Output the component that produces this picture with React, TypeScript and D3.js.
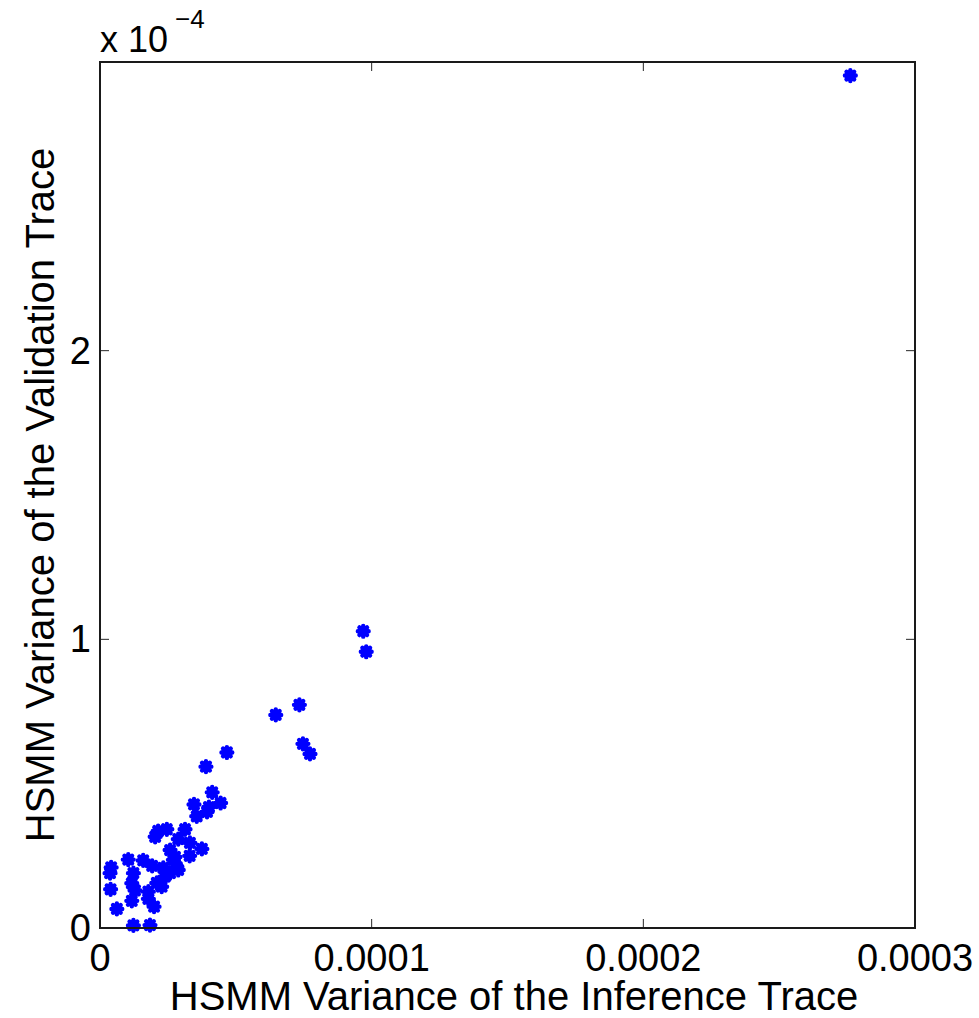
import React from "react";
import * as d3 from "d3";

// Data (HSMM variances)
const inferenceVar: number[] = [
  27.62e-5, 9.69e-5, 9.80e-5, 7.34e-5, 6.47e-5, 7.47e-5, 7.73e-5, 4.67e-5, 3.90e-5, 4.13e-5,
  3.46e-5, 4.44e-5, 4.01e-5, 3.94e-5, 3.56e-5, 3.13e-5, 2.14e-5, 2.46e-5, 2.03e-5, 2.88e-5,
  3.31e-5, 3.75e-5, 3.30e-5, 2.58e-5, 2.70e-5, 2.83e-5, 2.33e-5, 1.59e-5, 1.04e-5, 0.41e-5,
  0.37e-5, 1.23e-5, 1.92e-5, 1.17e-5, 0.39e-5, 1.29e-5, 1.78e-5, 2.27e-5, 2.09e-5, 2.39e-5,
  2.58e-5, 1.17e-5, 1.78e-5, 1.99e-5, 0.62e-5, 1.23e-5, 1.84e-5, 2.88e-5, 2.76e-5,
];
const validationVar: number[] = [
  29.53e-5, 10.28e-5, 9.57e-5, 7.73e-5, 7.38e-5, 6.38e-5, 6.03e-5, 6.08e-5, 5.59e-5, 4.70e-5,
  4.28e-5, 4.33e-5, 4.19e-5, 4.02e-5, 3.87e-5, 3.42e-5, 3.36e-5, 3.42e-5, 3.16e-5, 3.08e-5,
  2.95e-5, 2.74e-5, 2.50e-5, 2.70e-5, 2.36e-5, 2.11e-5, 2.08e-5, 2.34e-5, 2.37e-5, 2.10e-5,
  1.90e-5, 1.90e-5, 2.15e-5, 1.55e-5, 1.34e-5, 1.30e-5, 1.26e-5, 1.43e-5, 1.56e-5, 1.78e-5,
  1.90e-5, 0.94e-5, 1.01e-5, 0.74e-5, 0.66e-5, 0.09e-5, 0.10e-5, 2.01e-5, 2.46e-5,
];
const xTicks: number[] = [0, 1e-4, 2e-4, 3e-4];
const xTickLabels: string[] = ["0", "0.0001", "0.0002", "0.0003"];
const yTicks: number[] = [0, 1e-4, 2e-4];
const yTickLabels: string[] = ["0", "1", "2"];
const xLabel = "HSMM Variance of the Inference Trace";
const yLabel = "HSMM Variance of the Validation Trace";

const W = 979;
const H = 1018;
const left = 100, right = 915, top = 62, bottom = 928;
const font = "'Liberation Sans', Arial, Helvetica, sans-serif";

export default function App() {
  const x = d3.scaleLinear().domain([0, 3e-4]).range([left, right]);
  const y = d3.scaleLinear().domain([0, 3e-4]).range([bottom, top]);
  const tickLen = 9;
  const r = 5.4;
  const d = r * Math.SQRT1_2;
  const star = `M${-r},0L${r},0M0,${-r}L0,${r}M${-d},${-d}L${d},${d}M${-d},${d}L${d},${-d}`;

  return (
    <svg width={W} height={H} style={{ position: "absolute", left: 0, top: 0, background: "#fff" }}>
      <rect x={0} y={0} width={W} height={H} fill="#fff" />
      <g>
        {inferenceVar.map((v, i) => (
          <path
            key={i}
            d={star}
            transform={`translate(${x(v)},${y(validationVar[i])})`}
            stroke="#0000ff"
            strokeWidth={4.4}
            strokeLinecap="round"
            fill="none"
          />
        ))}
      </g>
      <g stroke="#262626" strokeWidth={1}>
        {xTicks.map((t, i) => (
          <g key={"xt" + i}>
            <line x1={x(t)} x2={x(t)} y1={bottom} y2={bottom - tickLen} />
            <line x1={x(t)} x2={x(t)} y1={top} y2={top + tickLen} />
          </g>
        ))}
        {yTicks.map((t, i) => (
          <g key={"yt" + i}>
            <line x1={left} x2={left + tickLen} y1={y(t)} y2={y(t)} />
            <line x1={right} x2={right - tickLen} y1={y(t)} y2={y(t)} />
          </g>
        ))}
      </g>
      <rect x={left} y={top} width={right - left} height={bottom - top} fill="none" stroke="#1a1a1a" strokeWidth={2} />
      <g fontFamily={font} fontSize={38} fill="#000">
        {xTicks.map((t, i) => (
          <text key={"xl" + i} x={x(t)} y={971} textAnchor="middle">
            {xTickLabels[i]}
          </text>
        ))}
        {yTicks.map((t, i) => (
          <text key={"yl" + i} x={91} y={y(t) + 13} textAnchor="end">
            {yTickLabels[i]}
          </text>
        ))}
      </g>
      <text x={100} y={52} fontFamily={font} fontSize={36} fill="#000">
        x 10
      </text>
      <text x={175} y={28} fontFamily={font} fontSize={26} fill="#000">
        −4
      </text>
      <text x={514} y={1010} textAnchor="middle" fontFamily={font} fontSize={40} fill="#000">
        {xLabel}
      </text>
      <text
        transform={`translate(54,${(top + bottom) / 2}) rotate(-90)`}
        textAnchor="middle"
        fontFamily={font}
        fontSize={40}
        fill="#000"
      >
        {yLabel}
      </text>
    </svg>
  );
}
